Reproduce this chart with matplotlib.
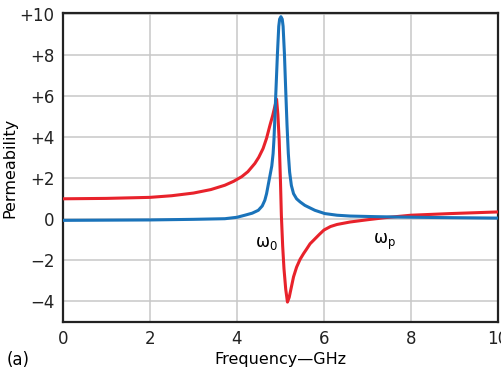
import matplotlib
matplotlib.use("Agg")
import matplotlib.pyplot as plt

# 实部（红色）
freq_red = [0, 1, 2, 2.5, 3, 3.4, 3.72, 3.92, 4.11, 4.25, 4.41, 4.5, 4.6, 4.68, 4.76,
            4.82, 4.87, 4.91, 4.94, 4.97, 5.0, 5.02, 5.05, 5.08, 5.12, 5.16, 5.2,
            5.25, 5.3, 5.37, 5.45, 5.53, 5.6, 5.68, 5.76, 5.9, 6.0, 6.15, 6.3, 6.6,
            7.0, 7.4, 8.0, 8.9, 10]
mu_red = [1.0, 1.02, 1.07, 1.15, 1.28, 1.45, 1.66, 1.85, 2.08, 2.32, 2.72, 3.02, 3.45,
          3.95, 4.6, 5.05, 5.5, 5.85, 5.1, 3.85, 1.8, 0.2, -1.3, -2.4, -3.4, -4.03,
          -3.8, -3.3, -2.8, -2.33, -1.95, -1.67, -1.45, -1.19, -1.02, -0.72, -0.52,
          -0.35, -0.25, -0.13, -0.02, 0.08, 0.2, 0.28, 0.36]

# 虚部（蓝色）
freq_blue = [0, 1, 2, 3, 3.72, 4.0, 4.18, 4.35, 4.49, 4.58, 4.64, 4.68, 4.72, 4.76,
             4.8, 4.83, 4.85, 4.87, 4.89, 4.93, 4.96, 4.98, 5.01, 5.04, 5.06, 5.09,
             5.12, 5.15, 5.18, 5.21, 5.25, 5.3, 5.37, 5.45, 5.56, 5.79, 6.02, 6.3,
             6.6, 7.2, 7.75, 8.5, 10]
mu_blue = [-0.05, -0.04, -0.03, 0.0, 0.03, 0.1, 0.2, 0.3, 0.44, 0.65, 0.93, 1.25, 1.7,
           2.15, 2.6, 3.2, 3.9, 4.9, 6.0, 8.08, 9.4, 9.75, 9.87, 9.75, 9.4, 8.08,
           6.3, 4.6, 3.2, 2.3, 1.65, 1.25, 1.0, 0.85, 0.68, 0.44, 0.28, 0.2,
           0.16, 0.13, 0.11, 0.09, 0.06]

xticks = [0, 2, 4, 6, 8, 10]
yticks = [-4, -2, 0, 2, 4, 6, 8, 10]
ytick_labels = ["\u22124", "\u22122", "0", "+2", "+4", "+6", "+8", "+10"]

plt.rcParams['font.family'] = ['DejaVu Sans']

fig = plt.figure(figsize=(5.02, 3.69), dpi=100)
ax = fig.add_axes([0.1255, 0.1274, 0.8665, 0.8374])

ax.plot(freq_red, mu_red, color="#e8222b", lw=2.2, solid_joinstyle="round", zorder=3)
ax.plot(freq_blue, mu_blue, color="#1a73ba", lw=2.2, solid_joinstyle="round", zorder=4)

ax.set_xlim(0, 10)
ax.set_ylim(-5, 10.05)
ax.set_xticks(xticks)
ax.set_yticks(yticks)
ax.set_yticklabels(ytick_labels)
ax.tick_params(length=0, labelsize=12, pad=6, colors="#222222")
ax.grid(True, color="#c8c8c8", lw=1.1)
ax.set_axisbelow(True)
for s in ax.spines.values():
    s.set_color("#222222")
    s.set_linewidth(1.6)

ax.text(4.67, -1.17, r"$\mathregular{\omega_0}$", fontsize=12, ha="center", va="center")
ax.text(7.4, -1.12, r"$\mathregular{\omega_p}$", fontsize=12, ha="center", va="center")

ax.set_xlabel("Frequency\u2014GHz", fontsize=11.5, labelpad=3)
ax.set_ylabel("Permeability", fontsize=11.5, labelpad=2)
fig.text(0.013, 0.012, "(a)", fontsize=12)

fig.savefig("out.png", dpi=100)
